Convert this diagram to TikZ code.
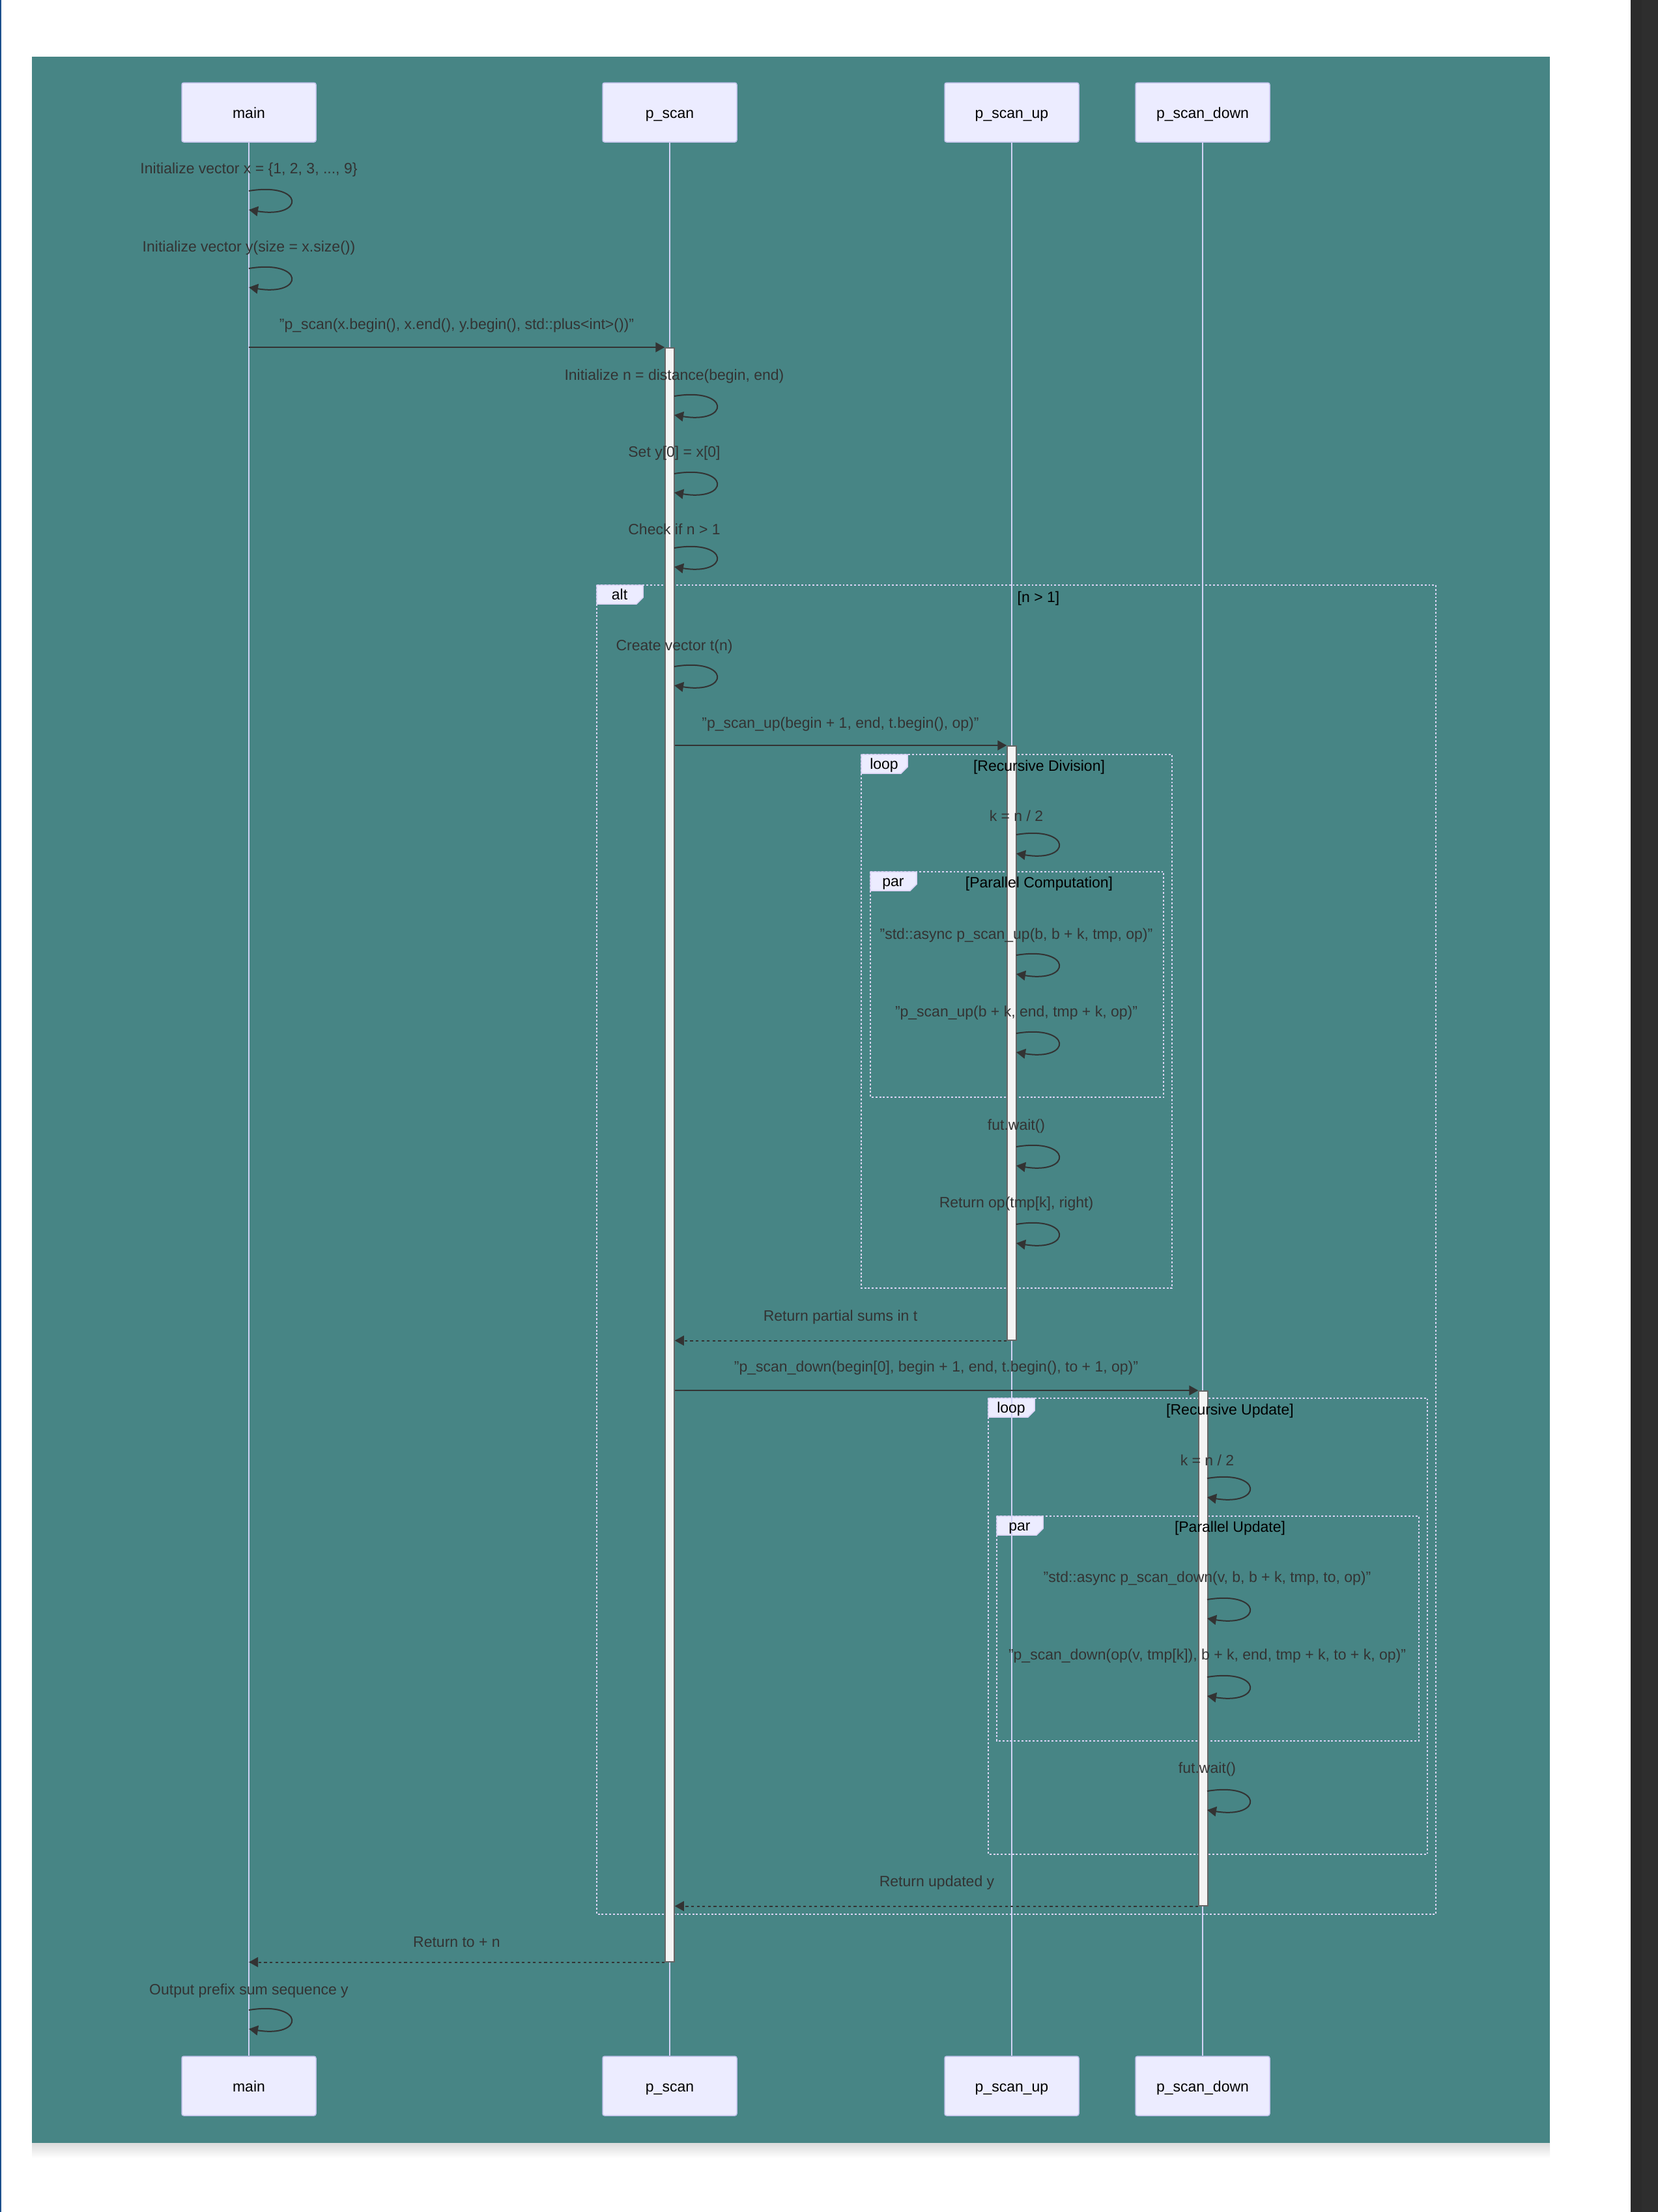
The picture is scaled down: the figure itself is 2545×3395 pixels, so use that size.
\documentclass[tikz,border=0pt]{standalone}
\usepackage{fontspec}
\setmainfont{Liberation Sans}
\usetikzlibrary{arrows.meta}
\definecolor{bgteal}{HTML}{478585}
\definecolor{actfill}{HTML}{ECECFF}
\definecolor{actdraw}{HTML}{C4C4EC}
\definecolor{lifec}{HTML}{D2D2F6}
\definecolor{framec}{HTML}{DCD4F6}
\definecolor{msgc}{HTML}{333333}
\definecolor{barfill}{HTML}{F4F4F4}
\definecolor{bardraw}{HTML}{666666}
\definecolor{leftblue}{HTML}{1B4F8C}
\newcommand\dgfont{\fontsize{23pt}{27pt}\selectfont}
\pgfdeclarelayer{front}
\pgfsetlayers{main,front}
\newcommand\selfmsg[5]{%
  \coordinate (#1s) at (#2,#4);
  \coordinate (#1e) at (#2,#4+29);
  \begin{pgfonlayer}{front}
  \node[msgtext] (#1) at (#2,#3) {#5};
  \draw[msg] (#1s) .. controls +(86,-14) and +(86,14) .. (#1e);
  \end{pgfonlayer}
}
\newcommand\dgframe[6]{% name, x1, y1, x2, y2, tab label
  \draw[framel] (#2,#3) rectangle (#4,#5);
  \draw[tabbox] (#2,#3) -- ++(71,0) -- ++(0,19) -- ++(-10,10) -- ++(-61,0) -- cycle;
  \begin{pgfonlayer}{front}
  \node[tabtext] (#1) at (#2+35,#3+14.5) {#6};
  \end{pgfonlayer}
}
\begin{document}
\begin{tikzpicture}[x=1pt,y=-1pt,
  actor/.style={draw=actdraw,fill=actfill,line width=1.5pt,rounded corners=3pt,
    minimum width=206pt,minimum height=91pt,inner sep=0pt,text=black,font=\dgfont,
    text height=22pt,text depth=4pt},
  msgtext/.style={text=msgc,font=\dgfont,inner sep=0pt,text height=20pt,text depth=4pt},
  condtext/.style={text=black,font=\dgfont,inner sep=0pt,text height=19pt,text depth=4pt},
  tabtext/.style={text=black,font=\dgfont,inner sep=0pt,text height=19pt,text depth=4pt},
  msg/.style={draw=msgc,line width=2pt,-{Triangle[length=14pt,width=15pt]}},
  ret/.style={draw=msgc,line width=2pt,dash pattern=on 4.3pt off 4.3pt,-{Triangle[length=14pt,width=15pt]}},
  lifeline/.style={draw=lifec,line width=2pt},
  actbar/.style={draw=bardraw,fill=barfill,line width=1.5pt,minimum width=14pt,inner sep=0pt,anchor=north},
  framel/.style={draw=framec,line width=2.9pt,dash pattern=on 2.9pt off 2.9pt},
  tabbox/.style={draw=framec,fill=actfill,line width=1.5pt}]
\useasboundingbox (0,0) rectangle (2545,3395);
\fill[white] (0,0) rectangle (2545,3395);
\fill[leftblue] (0,0) rectangle (1.5,3395);
\fill[black!83] (2503,0) rectangle (2520,3395);
\fill[black!82] (2520,0) rectangle (2545,3395);
\shade[top color=black!14,bottom color=white] (49,3289) rectangle (2379,3312);
\fill[bgteal] (49,87) rectangle (2379,3289);

% frames
\dgframe{altL}{916}{898}{2204}{2938}{alt}
\dgframe{loopA}{1322}{1158}{1799}{1977}{loop}
\dgframe{parA}{1336}{1338}{1786}{1684}{par}
\dgframe{loopB}{1517}{2146}{2191}{2846}{loop}
\dgframe{parB}{1530}{2327}{2178}{2672}{par}

% participants
\node[actor] (mainT) at (382,172.5) {main};
\node[actor] (scanT) at (1028,172.5) {p\_scan};
\node[actor] (upT) at (1553,172.5) {p\_scan\_up};
\node[actor] (downT) at (1846,172.5) {p\_scan\_down};
\node[actor] (mainB) at (382,3201.5) {main};
\node[actor] (scanB) at (1028,3201.5) {p\_scan};
\node[actor] (upB) at (1553,3201.5) {p\_scan\_up};
\node[actor] (downB) at (1846,3201.5) {p\_scan\_down};

% lifelines
\draw[lifeline] (mainT) -- (mainB);
\draw[lifeline] (scanT) -- (scanB);
\draw[lifeline] (upT) -- (upB);
\draw[lifeline] (downT) -- (downB);

% activations
\node[actbar,minimum height=2477pt] (actS) at (1028,533) {};
\node[actbar,minimum height=912pt] (actU) at (1553,1144) {};
\node[actbar,minimum height=790pt] (actD) at (1847,2134) {};

% self messages
\selfmsg{m1}{382}{258}{293}{Initialize vector x = \{1, 2, 3, ..., 9\}}
\selfmsg{m2}{382}{378}{412}{Initialize vector y(size = x.size())}
\selfmsg{m4}{1035}{575}{608}{Initialize n = distance(begin, end)}
\selfmsg{m5}{1035}{693}{727}{Set y[0] = x[0]}
\selfmsg{m6}{1035}{812}{841}{Check if n > 1}
\selfmsg{m7}{1035}{990}{1023}{Create vector t(n)}
\selfmsg{m9}{1560}{1252}{1281}{k = n / 2}
\selfmsg{m10}{1560}{1433}{1466}{"std::async p\_scan\_up(b, b + k, tmp, op)"}
\selfmsg{m11}{1560}{1552}{1586}{"p\_scan\_up(b + k, end, tmp + k, op)"}
\selfmsg{m12}{1560}{1726}{1760}{fut.wait()}
\selfmsg{m13}{1560}{1845}{1879}{Return op(tmp[k], right)}
\selfmsg{m16}{1853}{2241}{2269}{k = n / 2}
\selfmsg{m17}{1853}{2420}{2455}{"std::async p\_scan\_down(v, b, b + k, tmp, to, op)"}
\selfmsg{m18}{1853}{2539}{2574}{"p\_scan\_down(op(v, tmp[k]), b + k, end, tmp + k, to + k, op)"}
\selfmsg{m19}{1853}{2713}{2749}{fut.wait()}
\selfmsg{m22}{382}{3053}{3085}{Output prefix sum sequence y}

\begin{pgfonlayer}{front}
% frame conditions
\node[condtext] (altC) at (1594,917) {[n > 1]};
\node[condtext] (loopAC) at (1595,1176) {[Recursive Division]};
\node[condtext] (parAC) at (1595,1355) {[Parallel Computation]};
\node[condtext] (loopBC) at (1888,2164) {[Recursive Update]};
\node[condtext] (parBC) at (1888,2344) {[Parallel Update]};
% message labels
\node[msgtext] (t3) at (701,497) {"p\_scan(x.begin(), x.end(), y.begin(), std::plus<int>())"};
\node[msgtext] (t8) at (1290,1109) {"p\_scan\_up(begin + 1, end, t.begin(), op)"};
\node[msgtext] (t14) at (1290,2019) {Return partial sums in t};
\node[msgtext] (t15) at (1437,2097) {"p\_scan\_down(begin[0], begin + 1, end, t.begin(), to + 1, op)"};
\node[msgtext] (t20) at (1438,2887) {Return updated y};
\node[msgtext] (t21) at (701,2980) {Return to + n};
\end{pgfonlayer}

% messages
\draw[msg] (mainT.south |- actS.north) -- (actS.north west);
\draw[msg] (actS.east |- actU.north) -- (actU.north west);
\draw[ret] (actU.south west) -- (actS.east |- actU.south);
\draw[msg] (actS.east |- actD.north) -- (actD.north west);
\draw[ret] (actD.south west) -- (actS.east |- actD.south);
\draw[ret] (actS.south west) -- (mainT.south |- actS.south);
\end{tikzpicture}
\end{document}
